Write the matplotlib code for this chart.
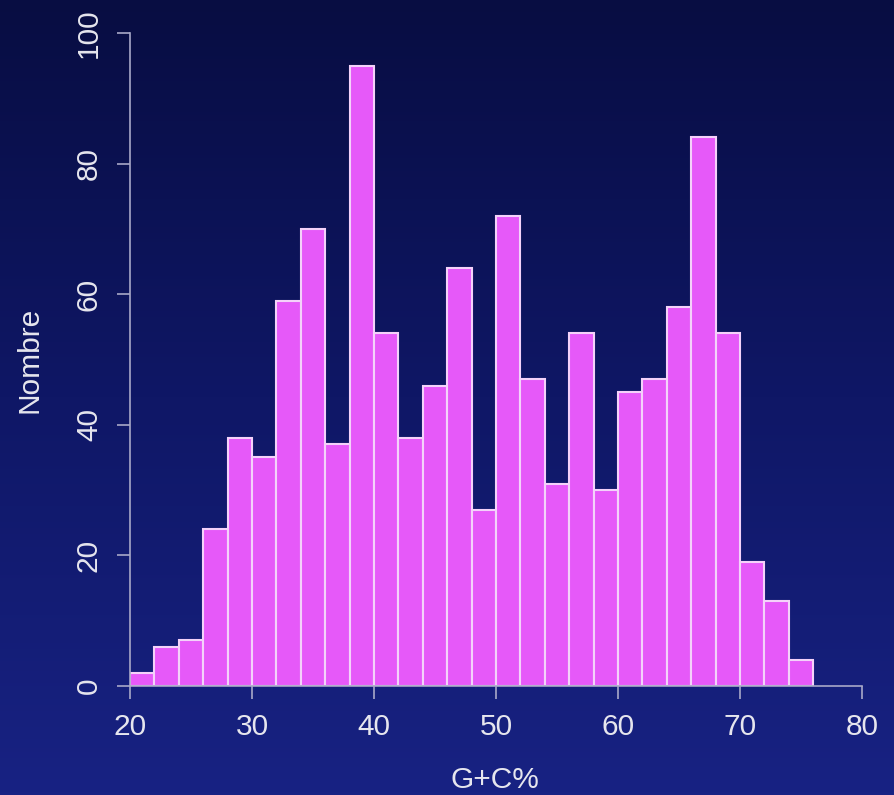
import numpy as np
import matplotlib.pyplot as plt
from matplotlib.colors import LinearSegmentedColormap

# histogram counts, bins of width 2 from 20 to 76
bin_edges = list(range(20, 78, 2))
counts = [2, 6, 7, 24, 38, 35, 59, 70, 37, 95, 54, 38, 46, 64, 27,
          72, 47, 31, 54, 30, 45, 47, 58, 84, 54, 19, 13, 4]
x_ticks = [20, 30, 40, 50, 60, 70, 80]
y_ticks = [0, 20, 40, 60, 80, 100]

TXT = '#e6e6ee'
AXC = '#a8a8c8'
plt.rcParams['font.family'] = ['Liberation Sans', 'DejaVu Sans']

fig = plt.figure(figsize=(8.95, 7.95), dpi=100)

# gradient background over whole figure
bg = fig.add_axes([0, 0, 1, 1], zorder=-10)
cmap = LinearSegmentedColormap.from_list('bg', ['#080d42', '#0f1766', '#182283'])
bg.imshow(np.linspace(0, 1, 256).reshape(-1, 1), aspect='auto', cmap=cmap,
          extent=[0, 1, 0, 1])
bg.set_axis_off()

ax = fig.add_axes([130 / 895, 109 / 795, 732 / 895, 653 / 795])
ax.patch.set_alpha(0)

lefts = np.array(bin_edges[:-1])
widths = np.diff(bin_edges)
ax.bar(lefts, counts, width=widths, align='edge', color='#e659f9',
       edgecolor='#f4d2fa', linewidth=1.5)

ax.set_xlim(20, 80)
ax.set_ylim(0, 100)
ax.spines['top'].set_visible(False)
ax.spines['right'].set_visible(False)
for s in ['left', 'bottom']:
    ax.spines[s].set_color(AXC)
    ax.spines[s].set_linewidth(1.2)
ax.spines['left'].set_position(('data', 20))
ax.spines['bottom'].set_position(('data', 0))

ax.set_xticks(x_ticks)
ax.set_yticks(y_ticks)
ax.tick_params(axis='both', colors=AXC, labelcolor=TXT, length=9.5,
               width=1.2, labelsize=21.5)
ax.tick_params(axis='x', pad=10)
ax.tick_params(axis='y', pad=10)
for lab in ax.get_yticklabels():
    lab.set_rotation(90)
    lab.set_va('center')

ax.set_xlabel('G+C%', color=TXT, fontsize=21.5, va='center')
ax.xaxis.set_label_coords(0.4986, -0.144)
ax.set_ylabel('Nombre', color=TXT, fontsize=21.5, va='center')
ax.yaxis.set_label_coords(-0.137, 0.499)

fig.savefig('out.png', dpi=100)
